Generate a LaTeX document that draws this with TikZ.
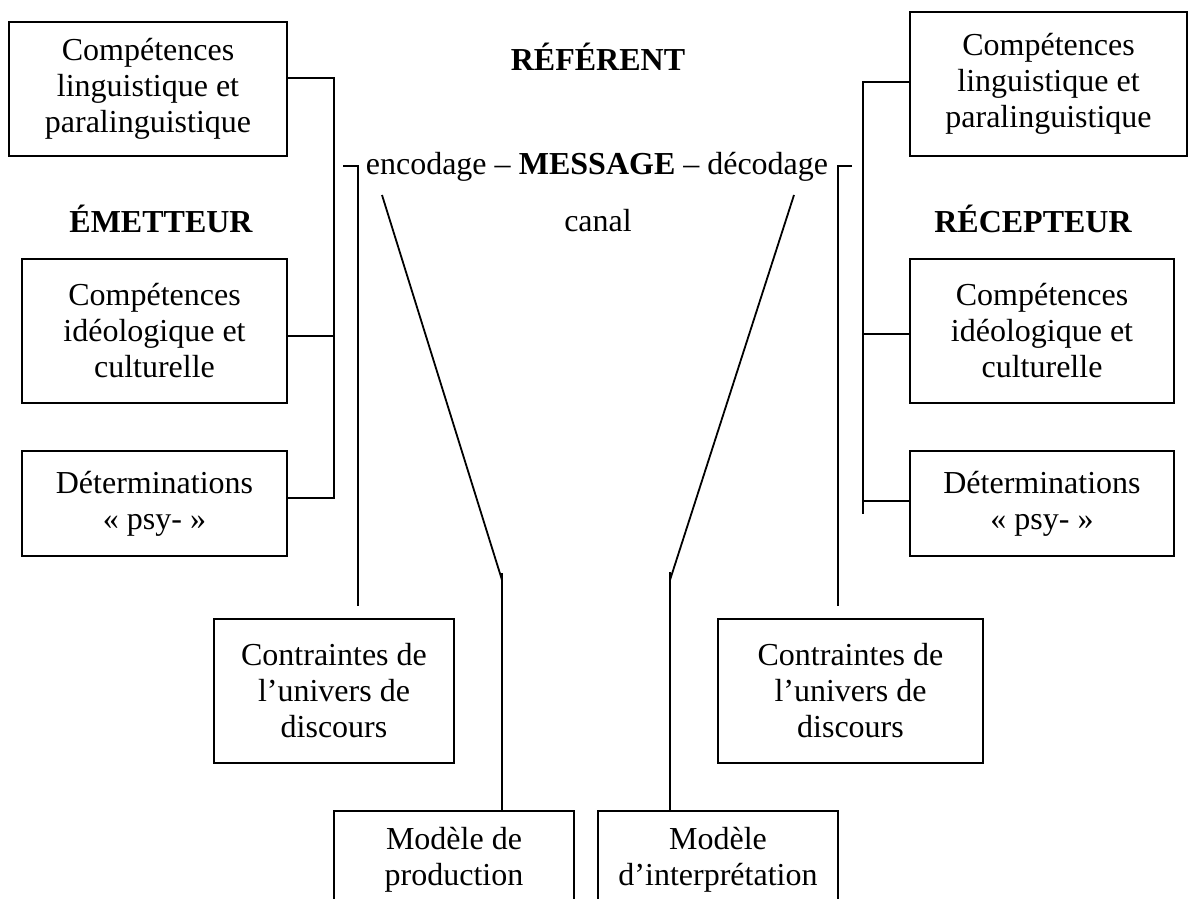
\documentclass[tikz,border=0pt]{standalone}
\usepackage{fontspec}
\setmainfont{Liberation Serif}
\begin{document}
\begin{tikzpicture}[x=1bp, y=-1bp,
  txt/.style={font=\fontsize{32bp}{36bp}\selectfont, align=center, inner sep=0pt},
  box/.style={draw, line width=1.8bp, outer sep=0pt, inner sep=0pt, align=center,
    font=\fontsize{32bp}{36bp}\selectfont},
  link/.style={line width=1.8bp},
  head/.style={txt, font=\fontsize{32bp}{36bp}\selectfont\bfseries}]
\useasboundingbox (0,0) rectangle (1188,899);
\clip (0,0) rectangle (1188,899);

% --- sender side ---
\node[box, minimum width=278bp, minimum height=134bp] (cl1) at (148,89) {Compétences\\linguistique et\\paralinguistique};
\node[head] (emet) at (161,219) {ÉMETTEUR};
\node[box, minimum width=265bp, minimum height=144bp] (cl2) at (154.5,331) {Compétences\\idéologique et\\culturelle};
\node[box, minimum width=265bp, minimum height=105bp] (cl3) at (154.5,503.5) {Déterminations\\« psy- »};

% --- receiver side ---
\node[box, minimum width=277bp, minimum height=144bp] (cr1) at (1048.5,84) {Compétences\\linguistique et\\paralinguistique};
\node[head] (recep) at (1033,219) {RÉCEPTEUR};
\node[box, minimum width=264bp, minimum height=144bp] (cr2) at (1042,331) {Compétences\\idéologique et\\culturelle};
\node[box, minimum width=264bp, minimum height=105bp] (cr3) at (1042,503.5) {Déterminations\\« psy- »};

% --- centre ---
\node[head] (ref) at (598,57) {RÉFÉRENT};
\node[txt, anchor=base] (msg) at (597,174) {encodage – \textbf{MESSAGE} – décodage};
\node[txt] (canal) at (598,221) {canal};

% --- universe of discourse ---
\node[box, minimum width=240bp, minimum height=144bp] (ctl) at (334,691) {Contraintes de\\l’univers de\\discours};
\node[box, minimum width=265bp, minimum height=144bp] (ctr) at (850.5,691) {Contraintes de\\l’univers de\\discours};

% --- models (boxes run off the bottom edge) ---
\node[box, minimum width=240bp, minimum height=110bp, anchor=north] (mprod) at (454,811) {};
\node[txt] (mprodt) at (454,860) {Modèle de\\production};
\node[box, minimum width=240bp, minimum height=110bp, anchor=north] (minter) at (718,811) {};
\node[txt] (mintert) at (718,860) {Modèle\\d’interprétation};

% --- sender bus ---
\coordinate (lb1) at (334,78);
\coordinate (lb2) at (334,336);
\coordinate (lb3) at (334,498);
\draw[link] (cl1.east |- lb1) -- (lb1) -- (lb3) -- (cl3.east |- lb3);
\draw[link] (cl2.east |- lb2) -- (lb2);

% --- receiver bus ---
\coordinate (rb1) at (863,82);
\coordinate (rb2) at (863,334);
\coordinate (rb3) at (863,501);
\coordinate (rbend) at (863,514);
\draw[link] (cr1.west |- rb1) -- (rb1) -- (rbend);
\draw[link] (rb2) -- (cr2.west |- rb2);
\draw[link] (rb3) -- (cr3.west |- rb3);

% --- encoding / decoding to the discourse constraints ---
\coordinate (lt) at (343,166);
\coordinate (ltc) at (358,166);
\coordinate (lte) at (358,606);
\draw[link] (lt) -- (ltc) -- (lte);
\coordinate (rt) at (852,166);
\coordinate (rtc) at (838,166);
\coordinate (rte) at (838,606);
\draw[link] (rt) -- (rtc) -- (rte);

% --- channel funnel to the models ---
\coordinate (ld0) at (382,195);
\coordinate (ld1) at (502,580);
\coordinate (lv0) at (502,573);
\draw[link] (ld0) -- (ld1);
\draw[link] (lv0) -- (lv0 |- mprod.north);
\coordinate (rd0) at (794,195);
\coordinate (rd1) at (670,580);
\coordinate (rv0) at (670,572);
\draw[link] (rd0) -- (rd1);
\draw[link] (rv0) -- (rv0 |- minter.north);
\end{tikzpicture}
\end{document}
